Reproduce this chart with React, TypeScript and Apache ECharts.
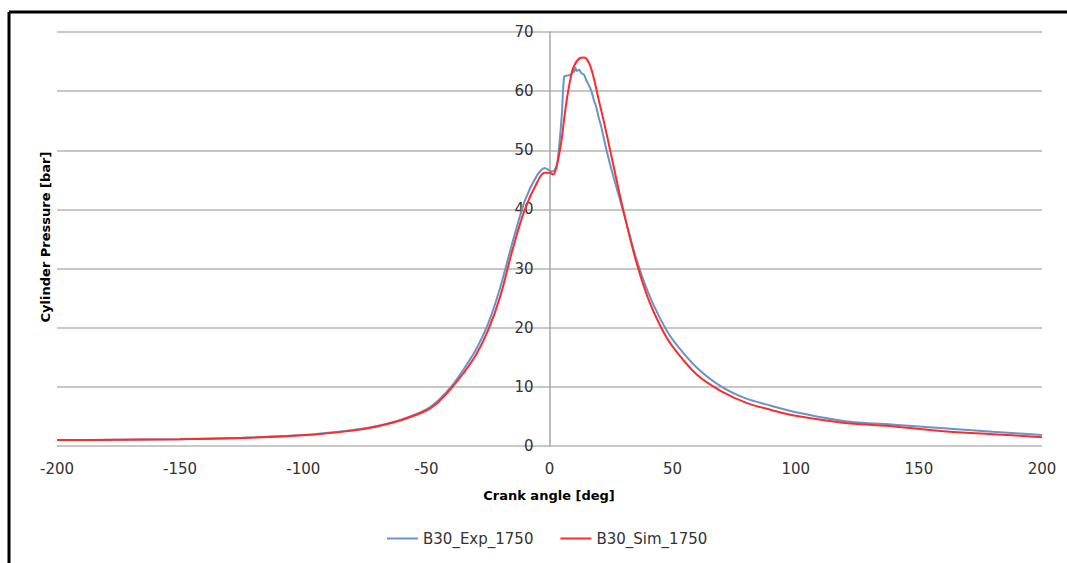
import React, { useEffect, useRef } from "react";
import * as echarts from "echarts";

const xTicks = { min: -200, max: 200, interval: 50 };
const yTicks = { min: 0, max: 70, interval: 10 };

const expAngle = [-200, -175, -150, -125, -100, -80, -70, -60, -50, -45, -40, -35, -30, -25, -20, -15, -10, -5, -2, 0, 1, 2, 3, 4, 5, 5.5, 6, 7, 8, 9, 9.5, 10, 10.5, 11, 12, 13, 14, 15, 16, 17, 18, 19, 20, 21, 23, 25, 27, 30, 35, 40, 45, 50, 60, 70, 80, 90, 100, 120, 140, 160, 180, 200];
const expPressure = [1.0, 1.05, 1.15, 1.4, 1.85, 2.7, 3.4, 4.5, 6.2, 7.8, 10, 12.9, 16.2, 20.6, 26.8, 34.5, 41.5, 45.8, 47, 46.6, 46.4, 46.6, 47.5, 51, 56, 60, 62.5, 62.6, 62.7, 63, 63.8, 63.2, 64, 63.4, 63.6, 63, 62.8, 61.8, 61, 60, 58.5, 57.3, 55.5, 54, 50.3, 47, 44, 39.6, 32, 26, 21.5, 18, 13.2, 10, 8, 6.8, 5.7, 4.2, 3.6, 3.0, 2.4, 1.85];

const simAngle = [-200, -175, -150, -125, -100, -80, -70, -60, -50, -45, -40, -35, -30, -25, -20, -15, -10, -5, -2, 0, 1.5, 3, 4, 5, 6, 7, 8, 9, 10, 12, 14, 16, 18, 20, 22, 25, 30, 35, 40, 45, 50, 60, 70, 80, 90, 100, 120, 140, 160, 180, 200];
const simPressure = [1.0, 1.05, 1.15, 1.35, 1.8, 2.6, 3.3, 4.4, 6.0, 7.5, 9.7, 12.3, 15.3, 19.5, 25.3, 33.2, 40, 44.6, 46.2, 46.2, 45.9, 47.5, 49.5, 52, 55.5, 58.5, 61, 63, 64.3, 65.5, 65.7, 64.8, 62.2, 58.5, 55, 49.3, 39.8, 31.5, 25, 20.3, 16.8, 12, 9.2, 7.3, 6.1, 5.1, 3.9, 3.3, 2.5, 2.0, 1.5];

const seriesNames = ["B30_Exp_1750", "B30_Sim_1750"];
const xTitle = "Crank angle [deg]";
const yTitle = "Cylinder Pressure [bar]";

const FONT = "DejaVu Sans";

export default function App() {
  const ref = useRef<HTMLDivElement>(null);
  useEffect(() => {
    if (!ref.current) return;
    const chart = echarts.init(ref.current, null, { renderer: "svg" });
    const expData = expAngle.map((a, i) => [a, expPressure[i]]);
    const simData = simAngle.map((a, i) => [a, simPressure[i]]);
    const gridLeft = 57;
    const gridRight = 25;
    const plotW = 1067 - gridLeft - gridRight;
    const zeroOffset = -(plotW * (0 - xTicks.min)) / (xTicks.max - xTicks.min);
    chart.setOption({
      animation: false,
      backgroundColor: "#ffffff",
      grid: { left: gridLeft, right: gridRight, top: 32, bottom: 117, containLabel: false },
      xAxis: {
        type: "value",
        min: xTicks.min,
        max: xTicks.max,
        interval: xTicks.interval,
        axisLine: { show: false },
        axisTick: { show: false },
        splitLine: { show: false },
        axisLabel: { color: "#333333", fontSize: 15, fontFamily: FONT, margin: 15 },
      },
      yAxis: {
        type: "value",
        min: yTicks.min,
        max: yTicks.max,
        interval: yTicks.interval,
        offset: zeroOffset,
        axisLine: { show: true, onZero: false, lineStyle: { color: "#a6a6a6", width: 1.5 } },
        axisTick: { show: false },
        splitLine: { show: true, lineStyle: { color: "#b4b4b4", width: 1.5 } },
        axisLabel: { color: "#333333", fontSize: 15, fontFamily: FONT, margin: 16 },
      },
      legend: {
        bottom: 12,
        left: 382,
        icon: "rect",
        itemWidth: 31,
        itemHeight: 2,
        itemGap: 27,
        textStyle: { color: "#333333", fontSize: 15, fontFamily: FONT },
        data: seriesNames,
      },
      series: [
        {
          name: seriesNames[0],
          type: "line",
          data: expData,
          symbol: "none",
          smooth: 0.25,
          lineStyle: { color: "#6a93cd", width: 2 },
          itemStyle: { color: "#6a93cd" },
          z: 2,
        },
        {
          name: seriesNames[1],
          type: "line",
          data: simData,
          symbol: "none",
          smooth: 0.35,
          lineStyle: { color: "#ff2a2a", width: 2 },
          itemStyle: { color: "#ff2a2a" },
          z: 3,
        },
      ],
      graphic: [
        {
          type: "line",
          shape: { x1: 9, y1: 12, x2: 1067, y2: 12 },
          style: { stroke: "#000000", lineWidth: 3 },
        },
        {
          type: "line",
          shape: { x1: 9, y1: 12, x2: 9, y2: 563 },
          style: { stroke: "#000000", lineWidth: 3 },
        },
        {
          type: "text",
          x: 549,
          y: 495,
          style: {
            text: xTitle,
            fontSize: 13,
            fontWeight: "bold",
            fontFamily: FONT,
            fill: "#000000",
            align: "center",
            verticalAlign: "middle",
          },
        },
        {
          type: "text",
          x: 45,
          y: 237,
          rotation: Math.PI / 2,
          style: {
            text: yTitle,
            fontSize: 13,
            fontWeight: "bold",
            fontFamily: FONT,
            fill: "#000000",
            align: "center",
            verticalAlign: "middle",
          },
        },
      ],
    });
    return () => chart.dispose();
  }, []);
  return (
    <div
      ref={ref}
      style={{ position: "fixed", left: 0, top: 0, width: 1067, height: 563 }}
    />
  );
}
